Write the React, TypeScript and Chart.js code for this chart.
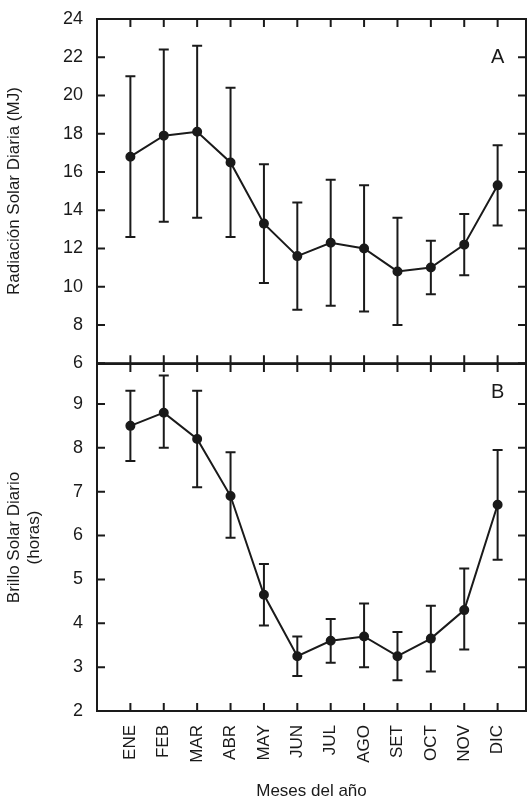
import React, { useEffect, useRef } from "react";
import { Chart, registerables } from "chart.js";
Chart.register(...registerables);

const months = ["ENE","FEB","MAR","ABR","MAY","JUN","JUL","AGO","SET","OCT","NOV","DIC"];
const radMean = [16.8,17.9,18.1,16.5,13.3,11.6,12.3,12.0,10.8,11.0,12.2,15.3];
const radLow = [12.6,13.4,13.6,12.6,10.2,8.8,9.0,8.7,8.0,9.6,10.6,13.2];
const radHigh = [21.0,22.4,22.6,20.4,16.4,14.4,15.6,15.3,13.6,12.4,13.8,17.4];
const briMean = [8.5,8.8,8.2,6.9,4.65,3.25,3.6,3.7,3.25,3.65,4.3,6.7];
const briLow = [7.7,8.0,7.1,5.95,3.95,2.8,3.1,3.0,2.7,2.9,3.4,5.45];
const briHigh = [9.3,9.65,9.3,7.9,5.35,3.7,4.1,4.45,3.8,4.4,5.25,7.95];

const FONT = "'Liberation Sans', Arial, sans-serif";
const INK = "#1a1a1a";

function makePlugin(low: number[], high: number[], letter: string, letterY: number, step: number) {
  return {
    id: "deco" + letter,
    afterDatasetsDraw(chart: any) {
      const ctx = chart.ctx;
      const { left, right, top, bottom } = chart.chartArea;
      const x = chart.scales.x, y = chart.scales.y;
      ctx.save();
      ctx.strokeStyle = INK;
      ctx.lineWidth = 2;
      for (let i = 0; i < low.length; i++) {
        const px = x.getPixelForValue(i);
        const y1 = y.getPixelForValue(low[i]), y2 = y.getPixelForValue(high[i]);
        ctx.beginPath();
        ctx.moveTo(px, y1); ctx.lineTo(px, y2);
        ctx.moveTo(px - 5, y1); ctx.lineTo(px + 5, y1);
        ctx.moveTo(px - 5, y2); ctx.lineTo(px + 5, y2);
        ctx.stroke();
      }
      ctx.strokeRect(left, top, right - left, bottom - top);
      const L = 8;
      for (let v = Math.ceil(y.min); v <= y.max; v += step) {
        const py = y.getPixelForValue(v);
        ctx.beginPath();
        ctx.moveTo(left, py); ctx.lineTo(left + L, py);
        ctx.moveTo(right, py); ctx.lineTo(right - L, py);
        ctx.stroke();
      }
      for (let i = 0; i < 12; i++) {
        const px = x.getPixelForValue(i);
        ctx.beginPath();
        ctx.moveTo(px, top); ctx.lineTo(px, top + L);
        ctx.moveTo(px, bottom); ctx.lineTo(px, bottom - L);
        ctx.stroke();
      }
      ctx.fillStyle = INK;
      ctx.font = "20px " + FONT;
      ctx.textAlign = "center";
      ctx.textBaseline = "middle";
      ctx.fillText(letter, x.getPixelForValue(11), letterY);
      ctx.restore();
    },
  };
}

function opts(ymin: number, ymax: number, step: number, title: string | string[], showX: boolean, padTop: number, padBottom: number, xHeight: number) {
  return {
    animation: false,
    responsive: false,
    maintainAspectRatio: false,
    layout: { padding: { top: padTop, bottom: padBottom, left: 0, right: 1 } },
    plugins: { legend: { display: false }, tooltip: { enabled: false } },
    scales: {
      x: {
        type: "linear",
        min: -1,
        max: 11.85,
        display: showX,
        grid: { display: false },
        border: { display: false },
        afterBuildTicks: (s: any) => { s.ticks = months.map((_, i) => ({ value: i })); },
        afterFit: (s: any) => { if (showX) s.height = xHeight; },
        ticks: {
          autoSkip: false,
          minRotation: 90,
          maxRotation: 90,
          color: INK,
          font: { size: 17, family: FONT },
          padding: 6,
          callback: (v: any) => months[v] ?? "",
        },
        title: { display: showX, text: "Meses del año", color: INK, font: { size: 17, family: FONT }, padding: { top: 12 } },
      },
      y: {
        min: ymin,
        max: ymax,
        grid: { display: false },
        border: { display: false },
        afterFit: (s: any) => { s.width = 97; },
        afterBuildTicks: (s: any) => {
          const t = [];
          for (let v = Math.ceil(ymin); v <= ymax; v += step) t.push({ value: v });
          s.ticks = t;
        },
        ticks: { color: INK, font: { size: 18, family: FONT }, padding: 6 },
        title: { display: true, text: title, color: INK, font: { size: 17, family: FONT }, padding: { bottom: 4 } },
      },
    },
  };
}

export default function App() {
  const refA = useRef<HTMLCanvasElement>(null);
  const refB = useRef<HTMLCanvasElement>(null);
  useEffect(() => {
    const ds = (d: number[]) => ({
      data: d.map((v, i) => ({ x: i, y: v })),
      borderColor: INK,
      backgroundColor: INK,
      borderWidth: 2,
      pointRadius: 4,
      tension: 0,
    });
    const a = new Chart(refA.current!, {
      type: "line",
      data: { datasets: [ds(radMean)] },
      options: opts(6, 24, 2, "Radiación Solar Diaria (MJ)", false, 19, 16, 0) as any,
      plugins: [makePlugin(radLow, radHigh, "A", 57, 2)],
    });
    const b = new Chart(refB.current!, {
      type: "line",
      data: { datasets: [ds(briMean)] },
      options: opts(2, 9.91, 1, ["Brillo Solar Diario", "(horas)"], true, 24, 0, 95) as any,
      plugins: [makePlugin(briLow, briHigh, "B", 392 - 340, 1)],
    });
    return () => { a.destroy(); b.destroy(); };
  }, []);
  return (
    <div style={{ position: "absolute", left: 0, top: 0, width: 532, height: 806, background: "#fff" }}>
      <canvas ref={refA} width={532} height={380} style={{ position: "absolute", left: 0, top: 0 }} />
      <canvas ref={refB} width={532} height={466} style={{ position: "absolute", left: 0, top: 340 }} />
    </div>
  );
}
